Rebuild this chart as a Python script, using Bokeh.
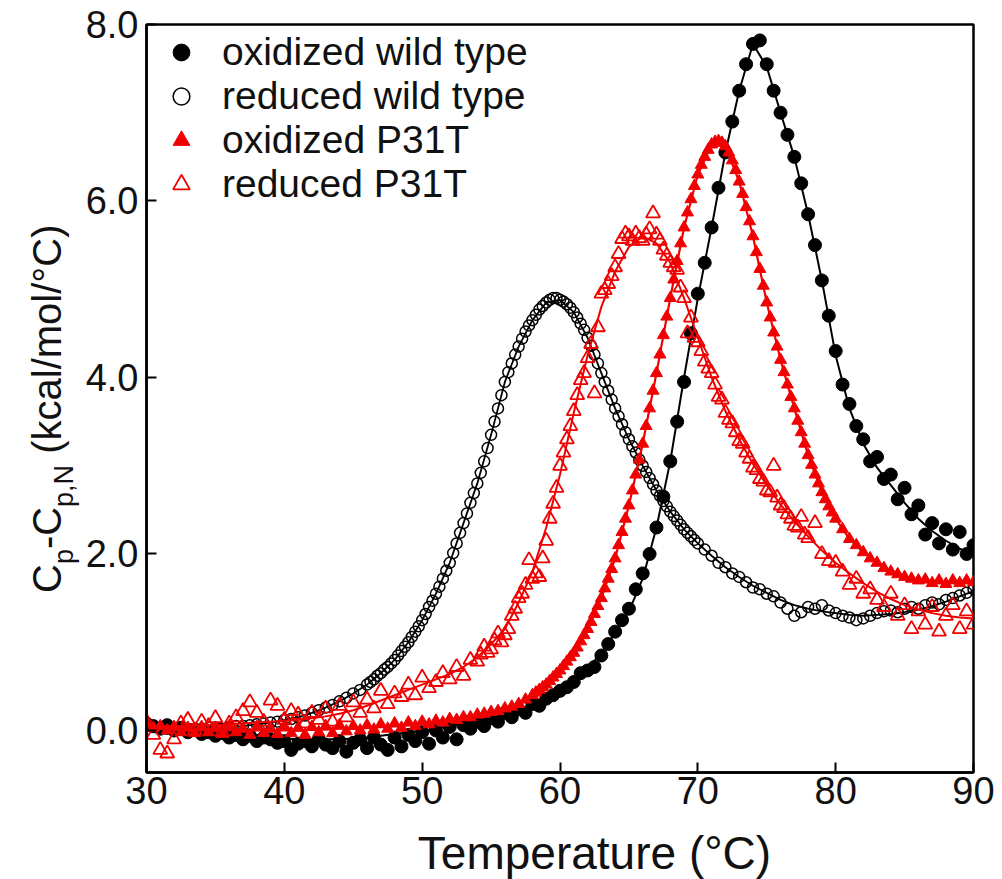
from bokeh.plotting import figure
from bokeh.models import Range1d, FixedTicker, Legend, LegendItem, Label
from bokeh.layouts import row, column
from bokeh.embed import file_html
from bokeh.resources import INLINE

# ---------------- data ----------------
x_ticks = [30, 40, 50, 60, 70, 80, 90]
x_tick_labels = ["30", "40", "50", "60", "70", "80", "90"]
y_ticks = [0, 2, 4, 6, 8]
y_tick_labels = ["0.0", "2.0", "4.0", "6.0", "8.0"]

series_names = ["oxidized wild type", "reduced wild type", "oxidized P31T", "reduced P31T"]
x_title = "Temperature (°C)"

# temperatures of the fitted curves (degC)
fit_temp = [30, 31, 32, 33, 34, 35, 36, 37, 38, 39,
            40, 41, 42, 43, 44, 45, 46, 47, 48, 49,
            50, 51, 52, 53, 54, 55, 56, 57, 58, 59,
            60, 61, 62, 63, 64, 65, 66, 67, 68, 69,
            70, 71, 72, 73, 74, 75, 76, 77, 78, 79,
            80, 81, 82, 83, 84, 85, 86, 87, 88, 89,
            90]

ow_fit = [0.05, 0.03, 0.02, 0.00, -0.02, -0.03, -0.05, -0.06, -0.07, -0.08,
          -0.09, -0.10, -0.10, -0.10, -0.10, -0.09, -0.08, -0.06, -0.04, -0.02,
          0.00, 0.02, 0.05, 0.08, 0.11, 0.15, 0.19, 0.24, 0.30, 0.37,
          0.45, 0.56, 0.70, 0.88, 1.10, 1.35, 1.72, 2.30, 3.05, 4.00,
          4.90, 5.70, 6.55, 7.25, 7.78, 7.52, 7.00, 6.50, 5.85, 5.10,
          4.25, 3.65, 3.25, 2.98, 2.78, 2.58, 2.40, 2.26, 2.15, 2.06,
          1.98]

rw_fit = [0.05, 0.03, 0.02, 0.02, 0.02, 0.03, 0.04, 0.05, 0.07, 0.09,
          0.12, 0.15, 0.20, 0.26, 0.33, 0.42, 0.52, 0.65, 0.80, 1.00,
          1.25, 1.55, 1.90, 2.35, 2.80, 3.35, 3.95, 4.35, 4.65, 4.85,
          4.88, 4.74, 4.45, 4.05, 3.65, 3.30, 3.00, 2.72, 2.48, 2.28,
          2.12, 1.98, 1.85, 1.74, 1.64, 1.56, 1.48, 1.42, 1.38, 1.35,
          1.33, 1.31, 1.30, 1.31, 1.32, 1.34, 1.37, 1.41, 1.46, 1.52,
          1.58]

op_fit = [0.05, 0.03, 0.02, 0.01, 0.00, 0.00, 0.00, 0.00, 0.00, 0.00,
          0.00, 0.00, 0.01, 0.01, 0.02, 0.02, 0.03, 0.04, 0.05, 0.06,
          0.08, 0.10, 0.12, 0.15, 0.18, 0.21, 0.25, 0.30, 0.40, 0.52,
          0.68, 0.88, 1.15, 1.50, 1.95, 2.55, 3.25, 4.05, 4.90, 5.70,
          6.30, 6.64, 6.62, 6.22, 5.60, 4.85, 4.20, 3.65, 3.12, 2.70,
          2.40, 2.17, 2.02, 1.90, 1.80, 1.74, 1.71, 1.69, 1.68, 1.68,
          1.68]

rp_fit = [0.05, 0.05, 0.05, 0.05, 0.06, 0.06, 0.07, 0.08, 0.09, 0.10,
          0.11, 0.12, 0.14, 0.16, 0.19, 0.23, 0.28, 0.34, 0.40, 0.46,
          0.52, 0.58, 0.64, 0.72, 0.83, 0.98, 1.15, 1.45, 1.80, 2.30,
          2.90, 3.60, 4.25, 4.80, 5.20, 5.48, 5.60, 5.52, 5.30, 4.90,
          4.45, 4.00, 3.62, 3.30, 3.02, 2.78, 2.56, 2.37, 2.20, 2.04,
          1.90, 1.78, 1.67, 1.57, 1.49, 1.42, 1.37, 1.33, 1.30, 1.28,
          1.27]

# oxidized wild type: measured points
ow_temp = [30.0, 30.5, 31.0, 31.5, 32.0, 32.5, 33.0, 33.5, 34.0, 34.5,
           35.0, 35.5, 36.0, 36.5, 37.0, 37.5, 38.0, 38.5, 39.0, 39.5,
           40.0, 40.5, 41.0, 41.5, 42.0, 42.5, 43.0, 43.5, 44.0, 44.5,
           45.0, 45.5, 46.0, 46.5, 47.0, 47.5, 48.0, 48.5, 49.0, 49.5,
           50.0, 50.5, 51.0, 51.5, 52.0, 52.5, 53.0, 53.5, 54.0, 54.5,
           55.0, 55.5, 56.0, 56.5, 57.0, 57.5, 58.0, 58.5, 59.0, 59.5,
           60.0, 60.5, 61.0, 61.5, 62.0, 62.5, 63.0, 63.5, 64.0, 64.5,
           65.0, 65.5, 66.0, 66.5, 67.0, 67.5, 68.0, 68.5, 69.0, 69.5,
           70.0, 70.5, 71.0, 71.5, 72.0, 72.5, 73.0, 73.5, 74.0, 74.5,
           75.0, 75.5, 76.0, 76.5, 77.0, 77.5, 78.0, 78.5, 79.0, 79.5,
           80.0, 80.5, 81.0, 81.5, 82.0, 82.5, 83.0, 83.5, 84.0, 84.5,
           85.0, 85.5, 86.0, 86.5, 87.0, 87.5, 88.0, 88.5, 89.0, 89.5,
           90.0]
ow_cp = [0.08, 0.05, 0.02, 0.06, 0.00, 0.03, -0.02, 0.01, -0.04, -0.02,
         -0.06, -0.03, -0.08, -0.05, -0.10, -0.06, -0.12, -0.08, -0.10, -0.14,
         -0.12, -0.22, -0.15, -0.12, -0.18, -0.10, -0.16, -0.20, -0.12, -0.24,
         -0.14, -0.10, -0.20, -0.08, -0.16, -0.22, -0.08, -0.18, -0.05, -0.12,
         -0.02, -0.15, 0.00, -0.08, 0.04, -0.10, 0.06, 0.02, 0.10, 0.05,
         0.14, 0.10, 0.20, 0.15, 0.24, 0.20, 0.30, 0.28, 0.36, 0.40,
         0.45, 0.49, 0.55, 0.65, 0.68, 0.72, 0.85, 0.98, 1.12, 1.25,
         1.38, 1.60, 1.78, 2.00, 2.30, 2.65, 3.05, 3.50, 3.95, 4.50,
         4.95, 5.30, 5.70, 6.15, 6.55, 6.90, 7.25, 7.55, 7.78, 7.82,
         7.55, 7.25, 7.00, 6.75, 6.50, 6.20, 5.85, 5.50, 5.10, 4.70,
         4.30, 3.92, 3.70, 3.45, 3.30, 3.05, 3.10, 2.85, 2.90, 2.62,
         2.75, 2.45, 2.55, 2.22, 2.35, 2.12, 2.28, 2.05, 2.25, 2.00,
         2.10]

# reduced wild type: measured points
rw_temp = [30.0, 30.5, 31.0, 31.5, 32.0, 32.5, 33.0, 33.5, 34.0, 34.5,
           35.0, 35.5, 36.0, 36.5, 37.0, 37.5, 38.0, 38.5, 39.0, 39.5,
           40.0, 40.5, 41.0, 41.5, 42.0, 42.5, 43.0, 43.5, 44.0, 44.5,
           45.0, 45.5,
           46.0, 46.25, 46.5, 46.75, 47.0, 47.25, 47.5, 47.75,
           48.0, 48.25, 48.5, 48.75, 49.0, 49.25, 49.5, 49.75,
           50.0, 50.25, 50.5, 50.75, 51.0, 51.25, 51.5, 51.75,
           52.0, 52.25, 52.5, 52.75, 53.0, 53.25, 53.5, 53.75,
           54.0, 54.25, 54.5, 54.75, 55.0, 55.25, 55.5, 55.75,
           56.0, 56.25, 56.5, 56.75, 57.0, 57.25, 57.5, 57.75,
           58.0, 58.25, 58.5, 58.75, 59.0, 59.25, 59.5, 59.75,
           60.0, 60.25, 60.5, 60.75, 61.0, 61.25, 61.5, 61.75,
           62.0, 62.25, 62.5, 62.75, 63.0, 63.25, 63.5, 63.75,
           64.0, 64.25, 64.5, 64.75, 65.0, 65.25, 65.5, 65.75,
           66.0, 66.25, 66.5, 66.75, 67.0, 67.25, 67.5, 67.75,
           68.0, 68.25, 68.5, 68.75, 69.0, 69.25, 69.5, 69.75,
           70.0,
           70.5, 71.0, 71.5, 72.0, 72.5, 73.0, 73.5, 74.0, 74.5, 75.0,
           75.5, 76.0, 76.5, 77.0, 77.5, 78.0, 78.5, 79.0, 79.5, 80.0,
           80.5, 81.0, 81.5, 82.0, 82.5, 83.0, 83.5, 84.0, 84.5, 85.0,
           85.5, 86.0, 86.5, 87.0, 87.5, 88.0, 88.5, 89.0, 89.5, 90.0]
rw_cp = [0.06, 0.04, 0.03, 0.02, 0.02, 0.01, 0.02, 0.01, 0.02, 0.03,
         0.03, 0.02, 0.04, 0.05, 0.05, 0.06, 0.07, 0.08, 0.09, 0.10,
         0.12, 0.13, 0.15, 0.17, 0.20, 0.23, 0.26, 0.29, 0.33, 0.37,
         0.42, 0.46,
         0.52, 0.55, 0.58, 0.62, 0.65, 0.69, 0.72, 0.76,
         0.80, 0.85, 0.90, 0.95, 1.00, 1.06, 1.12, 1.18,
         1.25, 1.32, 1.40, 1.47, 1.55, 1.63, 1.72, 1.81,
         1.90, 2.01, 2.12, 2.24, 2.35, 2.46, 2.58, 2.69,
         2.80, 2.92, 3.05, 3.20, 3.35, 3.50, 3.65, 3.80,
         3.95, 4.06, 4.16, 4.26, 4.35, 4.44, 4.52, 4.59,
         4.65, 4.71, 4.77, 4.81, 4.85, 4.88, 4.90, 4.90,
         4.88, 4.86, 4.83, 4.79, 4.74, 4.68, 4.61, 4.54,
         4.45, 4.36, 4.26, 4.16, 4.05, 3.95, 3.85, 3.75,
         3.65, 3.56, 3.47, 3.38, 3.30, 3.22, 3.15, 3.07,
         3.00, 2.93, 2.86, 2.79, 2.72, 2.66, 2.60, 2.54,
         2.48, 2.43, 2.38, 2.33, 2.28, 2.24, 2.20, 2.16,
         2.12,
         2.05, 1.98, 1.90, 1.85, 1.78, 1.74, 1.68, 1.62, 1.60, 1.55,
         1.52, 1.45, 1.38, 1.30, 1.34, 1.40, 1.38, 1.42, 1.36, 1.33,
         1.30, 1.28, 1.25, 1.27, 1.30, 1.33, 1.35, 1.36, 1.34, 1.38,
         1.40, 1.38, 1.42, 1.45, 1.43, 1.48, 1.50, 1.53, 1.56, 1.60]

# oxidized P31T: measured points
op_temp = [30.0, 30.5, 31.0, 31.5, 32.0, 32.5, 33.0, 33.5, 34.0, 34.5,
           35.0, 35.5, 36.0, 36.5, 37.0, 37.5, 38.0, 38.5, 39.0, 39.5,
           40.0, 40.5, 41.0, 41.5, 42.0, 42.5, 43.0, 43.5, 44.0, 44.5,
           45.0, 45.5, 46.0, 46.5, 47.0, 47.5, 48.0, 48.5, 49.0, 49.5,
           50.0, 50.5, 51.0, 51.5, 52.0, 52.5, 53.0, 53.5, 54.0, 54.5,
           55.0, 55.5, 56.0, 56.5, 57.0, 57.5,
           58.0, 58.25, 58.5, 58.75, 59.0, 59.25, 59.5, 59.75,
           60.0, 60.25, 60.5, 60.75, 61.0, 61.25, 61.5, 61.75,
           62.0, 62.25, 62.5, 62.75, 63.0, 63.25, 63.5, 63.75,
           64.0, 64.25, 64.5, 64.75, 65.0, 65.25, 65.5, 65.75,
           66.0, 66.25, 66.5, 66.75, 67.0, 67.25, 67.5, 67.75,
           68.0, 68.25, 68.5, 68.75, 69.0, 69.25, 69.5, 69.75,
           70.0, 70.25, 70.5, 70.75, 71.0, 71.25, 71.5, 71.75,
           72.0, 72.25, 72.5, 72.75, 73.0, 73.25, 73.5, 73.75,
           74.0, 74.25, 74.5, 74.75, 75.0, 75.25, 75.5, 75.75,
           76.0, 76.25, 76.5, 76.75, 77.0, 77.25, 77.5, 77.75,
           78.0, 78.25, 78.5, 78.75, 79.0, 79.25, 79.5, 79.75,
           80.0,
           80.5, 81.0, 81.5, 82.0, 82.5, 83.0, 83.5, 84.0, 84.5, 85.0,
           85.5, 86.0, 86.5, 87.0, 87.5, 88.0, 88.5, 89.0, 89.5, 90.0]
op_cp = [0.08, 0.03, 0.05, 0.00, 0.04, -0.02, 0.03, -0.03, 0.04, -0.02,
         0.03, -0.04, 0.05, -0.02, 0.02, -0.05, 0.04, -0.03, 0.02, -0.04,
         0.05, -0.03, 0.03, -0.05, 0.04, -0.02, 0.05, -0.03, 0.06, -0.01,
         0.05, 0.00, 0.06, 0.01, 0.07, 0.02, 0.08, 0.03, 0.09, 0.05,
         0.10, 0.07, 0.11, 0.09, 0.13, 0.12, 0.15, 0.15, 0.18, 0.19,
         0.21, 0.22, 0.25, 0.27, 0.30, 0.35,
         0.40, 0.43, 0.46, 0.49, 0.52, 0.56, 0.60, 0.64,
         0.68, 0.73, 0.78, 0.83, 0.88, 0.94, 1.01, 1.08,
         1.15, 1.23, 1.32, 1.41, 1.50, 1.61, 1.72, 1.83,
         1.95, 2.10, 2.25, 2.40, 2.55, 2.72, 2.90, 3.07,
         3.25, 3.45, 3.65, 3.85, 4.05, 4.26, 4.48, 4.69,
         4.90, 5.11, 5.32, 5.52, 5.70, 5.87, 6.02, 6.17,
         6.30, 6.41, 6.50, 6.58, 6.64, 6.67, 6.68, 6.66,
         6.62, 6.55, 6.46, 6.35, 6.22, 6.08, 5.93, 5.77,
         5.60, 5.42, 5.23, 5.04, 4.85, 4.68, 4.51, 4.35,
         4.20, 4.06, 3.92, 3.78, 3.65, 3.51, 3.38, 3.25,
         3.12, 3.01, 2.90, 2.80, 2.70, 2.62, 2.54, 2.47,
         2.40,
         2.28, 2.17, 2.10, 2.02, 1.95, 1.90, 1.84, 1.80, 1.77, 1.74,
         1.72, 1.70, 1.71, 1.67, 1.70, 1.66, 1.70, 1.67, 1.70, 1.68]

# reduced P31T: measured points
rp_temp = [30.0, 30.5, 31.0, 31.5, 32.0, 32.5, 33.0, 33.5, 34.0, 34.5,
           35.0, 35.5, 36.0, 36.5, 37.0, 37.5, 38.0, 38.5, 39.0, 39.5,
           40.0, 40.5, 41.0, 41.5, 42.0, 42.5, 43.0, 43.5, 44.0, 44.5,
           45.0, 45.5, 46.0, 46.5, 47.0, 47.5, 48.0, 48.5, 49.0, 49.5,
           50.0, 50.5, 51.0, 51.5, 52.0, 52.5, 53.0, 53.5,
           54.0, 54.25, 54.5, 54.75, 55.0, 55.25, 55.5, 55.75,
           56.0, 56.25, 56.5, 56.75, 57.0, 57.25, 57.5, 57.75,
           58.0, 58.25, 58.5, 58.75, 59.0, 59.25, 59.5, 59.75,
           60.0, 60.25, 60.5, 60.75, 61.0, 61.25, 61.5, 61.75,
           62.0, 62.25, 62.5, 62.75, 63.0, 63.25, 63.5, 63.75,
           64.0, 64.25, 64.5, 64.75, 65.0, 65.25, 65.5, 65.75,
           66.0, 66.25, 66.5, 66.75, 67.0, 67.25, 67.5, 67.75,
           68.0, 68.25, 68.5, 68.75, 69.0, 69.25, 69.5, 69.75,
           70.0, 70.25, 70.5, 70.75, 71.0, 71.25, 71.5, 71.75,
           72.0, 72.25, 72.5, 72.75, 73.0, 73.25, 73.5, 73.75,
           74.0, 74.25, 74.5, 74.75, 75.0, 75.25, 75.5, 75.75,
           76.0, 76.25, 76.5, 76.75, 77.0, 77.25, 77.5, 77.75,
           78.0,
           78.5, 79.0, 79.5, 80.0, 80.5, 81.0, 81.5, 82.0, 82.5, 83.0,
           83.5, 84.0, 84.5, 85.0, 85.5, 86.0, 86.5, 87.0, 87.5, 88.0,
           88.5, 89.0, 89.5, 90.0]
rp_cp = [0.10, -0.05, -0.22, -0.26, -0.10, 0.08, 0.12, 0.00, 0.10, 0.05,
         0.14, -0.02, 0.08, 0.15, 0.22, 0.32, 0.20, 0.10, 0.34, 0.28,
         0.12, 0.22, 0.18, 0.08, 0.20, 0.12, 0.25, 0.10, 0.28, 0.15,
         0.32, 0.20, 0.35, 0.25, 0.45, 0.30, 0.42, 0.38, 0.52, 0.40,
         0.60, 0.48, 0.55, 0.65, 0.58, 0.72, 0.62, 0.80,
         0.78, 0.86, 0.95, 0.88, 0.92, 1.02, 1.10, 1.00,
         1.08, 1.15, 1.30, 1.38, 1.50, 1.55, 1.65, 1.93,
         1.72, 1.78, 1.74, 1.95, 2.15, 2.40, 2.57, 2.75,
         3.00, 3.15, 3.30, 3.45, 3.62, 3.80, 3.97, 4.05,
         4.22, 4.38, 3.82, 4.57, 4.95, 4.99, 5.06, 5.15,
         5.25, 5.40, 5.57, 5.63, 5.60, 5.55, 5.63, 5.58,
         5.55, 5.62, 5.68, 5.86, 5.62, 5.55, 5.45, 5.38,
         5.30, 5.25, 5.22, 5.02, 4.90, 4.50, 4.68, 4.45,
         4.40, 4.30, 4.18, 4.10, 4.05, 3.92, 3.78, 3.75,
         3.60, 3.52, 3.48, 3.38, 3.28, 3.25, 3.15, 3.08,
         2.98, 2.95, 2.85, 2.82, 2.72, 2.70, 3.00, 2.64,
         2.55, 2.52, 2.45, 2.40, 2.32, 2.30, 2.42, 2.22,
         2.18,
         2.35, 2.00, 1.92, 1.90, 1.80, 1.65, 1.72, 1.55, 1.60, 1.48,
         1.40, 1.55, 1.30, 1.42, 1.15, 1.35, 1.20, 1.40, 1.12, 1.30,
         1.42, 1.15, 1.35, 1.20]


def pair(xs, ys):
    n = min(len(xs), len(ys))
    return list(xs[:n]), list(ys[:n])


FONT = "Liberation Sans"
RED = "#f00000"
INK = "#111111"
TOTAL_W, TOTAL_H = 1002, 879
LAB_W = 82          # width of the y-title strip
XL_H = 55           # height of the x-title strip
MAIN_W = TOTAL_W - LAB_W
MAIN_H = TOTAL_H - XL_H
FRAME_L = 146 - LAB_W   # left border of the main plot inside its canvas
FRAME_R = 29


def blank(w, h, left=0, right=0):
    f = figure(width=w, height=h, x_range=Range1d(0, w), y_range=Range1d(0, h),
               x_axis_type=None, y_axis_type=None, output_backend="svg",
               toolbar_location=None, min_border=0, min_border_left=left,
               min_border_right=right, min_border_top=0, min_border_bottom=0)
    f.outline_line_color = None
    f.background_fill_color = "white"
    f.border_fill_color = "white"
    return f


# ---------------- y-axis title strip ----------------
ylab = blank(LAB_W, TOTAL_H)
MAIN = 40
SUB = 27
base_main = 46
base_sub = 63
ypos = 286.5
# (text, font size, baseline x, advance in em before the piece, width in em)
pieces = [("C", MAIN, base_main, 0.0, 0.722),
          ("p", SUB, base_sub, 0.0, 0.556),
          ("-", MAIN, base_main, 0.0, 0.333),
          ("C", MAIN, base_main, 0.0, 0.722),
          ("p,N", SUB, base_sub, 0.0, 0.556 + 0.278 + 0.722),
          ("(kcal/mol/°C)", MAIN, base_main, 0.278, 5.733)]
for txt, fs, bx, pre, em in pieces:
    ypos += pre * fs
    ylab.add_layout(Label(x=bx, y=ypos, x_units="screen", y_units="screen", text=txt,
                          angle=1.5707963267948966, angle_units="rad",
                          text_font=FONT, text_font_size=f"{fs}px", text_color=INK,
                          text_align="left", text_baseline="alphabetic"))
    ypos += em * fs

# ---------------- x-axis title strip (frame aligned with the main plot) ----------------
xlab = blank(MAIN_W, XL_H, left=FRAME_L, right=FRAME_R)
xlab.add_layout(Label(x=594 - 146, y=27, x_units="screen", y_units="screen",
                      text=x_title, text_font=FONT, text_font_size="46px",
                      text_color=INK, text_align="center", text_baseline="alphabetic"))

# ---------------- main plot ----------------
p = figure(width=MAIN_W, height=MAIN_H,
           x_range=Range1d(30, 90), y_range=Range1d(-0.476, 8.0),
           output_backend="svg", toolbar_location=None,
           min_border_left=FRAME_L, min_border_right=FRAME_R,
           min_border_top=24, min_border_bottom=MAIN_H - 772)
p.background_fill_color = "white"
p.border_fill_color = "white"
p.outline_line_color = "black"
p.outline_line_width = 2.5
p.xgrid.grid_line_color = None
p.ygrid.grid_line_color = None

for ax in (p.xaxis[0], p.yaxis[0]):
    ax.axis_line_color = "black"
    ax.axis_line_width = 2.5
    ax.major_tick_in = 10
    ax.major_tick_out = 0
    ax.major_tick_line_width = 2
    ax.major_tick_line_color = "black"
    ax.minor_tick_line_color = None
    ax.major_label_text_font = FONT
    ax.major_label_text_font_size = "38px"
    ax.major_label_text_color = INK

p.xaxis.ticker = FixedTicker(ticks=x_ticks)
p.xaxis.major_label_overrides = {t: s for t, s in zip(x_ticks, x_tick_labels)}
p.yaxis.ticker = FixedTicker(ticks=y_ticks)
p.yaxis.major_label_overrides = {t: s for t, s in zip(y_ticks, y_tick_labels)}
p.xaxis.major_label_standoff = 4
p.yaxis.major_label_standoff = 8

# fitted curves + data
fx, fy = pair(fit_temp, ow_fit)
p.line(fx, fy, line_color="black", line_width=2)
x, y = pair(ow_temp, ow_cp)
ow_pts = p.scatter(x, y, marker="circle", size=13, fill_color="black", line_color="black")

fx, fy = pair(fit_temp, rw_fit)
p.line(fx, fy, line_color="black", line_width=1.8)
x, y = pair(rw_temp, rw_cp)
rw_pts = p.scatter(x, y, marker="circle", size=11, fill_color=None,
                   line_color="black", line_width=1.5)

fx, fy = pair(fit_temp, op_fit)
p.line(fx, fy, line_color=RED, line_width=2.2)
x, y = pair(op_temp, op_cp)
op_pts = p.scatter(x, y, marker="triangle", size=12, fill_color=RED, line_color=RED)

fx, fy = pair(fit_temp, rp_fit)
p.line(fx, fy, line_color=RED, line_width=2)
x, y = pair(rp_temp, rp_cp)
rp_pts = p.scatter(x, y, marker="triangle", size=14, fill_color=None,
                   line_color=RED, line_width=1.8)

legend = Legend(items=[LegendItem(label=series_names[0], renderers=[ow_pts]),
                       LegendItem(label=series_names[1], renderers=[rw_pts]),
                       LegendItem(label=series_names[2], renderers=[op_pts]),
                       LegendItem(label=series_names[3], renderers=[rp_pts])],
                location="top_left", margin=6, padding=6, spacing=-2,
                glyph_width=58, glyph_height=42, label_standoff=12,
                label_text_font=FONT, label_text_font_size="39px",
                label_text_color=INK,
                border_line_color=None, background_fill_alpha=0)
p.add_layout(legend)

layout = row(ylab, column(p, xlab, spacing=0), spacing=0)
open("out.html", "w").write(file_html(layout, INLINE))
